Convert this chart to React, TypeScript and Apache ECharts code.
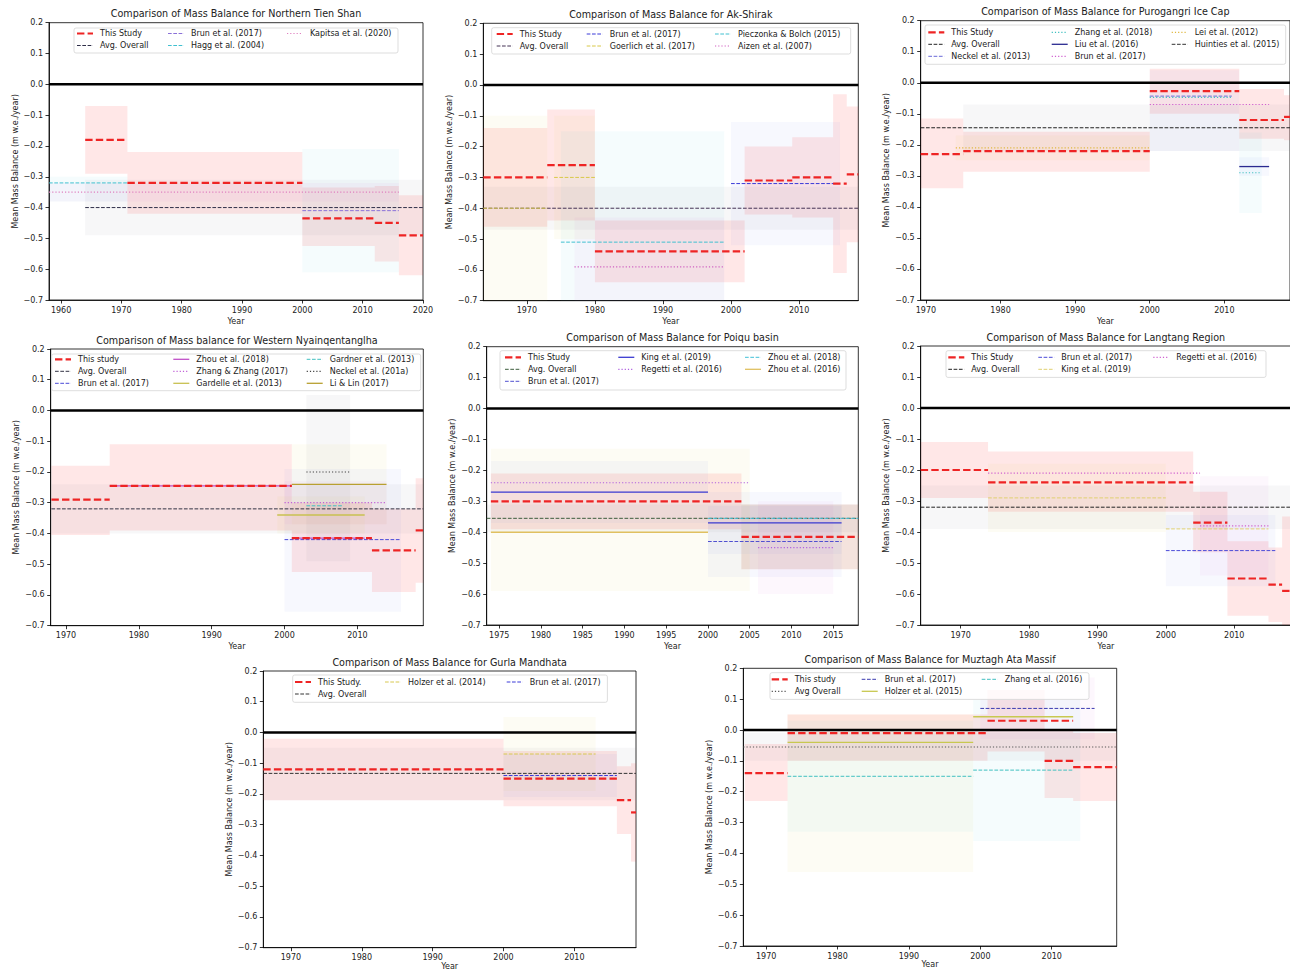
import React, { useEffect, useRef } from "react";
import * as echarts from "echarts";

// ---------- ticks ----------
const yTicks = [-0.7, -0.6, -0.5, -0.4, -0.3, -0.2, -0.1, 0.0, 0.1, 0.2];
const tienTicks = [1960, 1970, 1980, 1990, 2000, 2010, 2020];
const decadeTicks = [1970, 1980, 1990, 2000, 2010];
const poiquTicks = [1975, 1980, 1985, 1990, 1995, 2000, 2005, 2010, 2015];
const zeroLevel = 0;

// segments: [startYear, endYear, value]; bands: [startYear, endYear, low, high]
// ---------- Northern Tien Shan ----------
const tienStudy = [[1964, 1971, -0.18], [1971, 2000, -0.32], [2000, 2012, -0.435], [2012, 2016, -0.45], [2016, 2020, -0.49]];
const tienStudyBand = [[1964, 1971, -0.29, -0.07], [1971, 2000, -0.42, -0.22], [2000, 2012, -0.525, -0.335], [2012, 2016, -0.575, -0.33], [2016, 2020, -0.62, -0.36]];
const tienAvg = [[1964, 2020, -0.4]];
const tienAvgBand = [[1964, 2020, -0.49, -0.31]];
const tienBrun = [[2000, 2016, -0.41]];
const tienBrunBand = [[2000, 2016, -0.61, -0.21]];
const tienHagg = [[1957, 1971, -0.32]];
const tienHaggBand = [[1957, 1971, -0.38, -0.3]];
const tienKapitsa = [[1957, 2016, -0.35]];
const tienKapitsaBand = [[1957, 2016, -0.38, -0.32]];

// ---------- Ak-Shirak ----------
const akStudy = [[1963, 1973, -0.3], [1973, 1980, -0.26], [1980, 2002, -0.54], [2002, 2009, -0.31], [2009, 2015, -0.3], [2015, 2017, -0.32], [2017, 2019, -0.29]];
const akStudyBand = [[1963, 1973, -0.46, -0.14], [1973, 1980, -0.44, -0.08], [1980, 2002, -0.64, -0.44], [2002, 2009, -0.42, -0.2], [2009, 2015, -0.43, -0.17], [2015, 2017, -0.61, -0.03], [2017, 2019, -0.51, -0.07]];
const akAvg = [[1963, 2019, -0.4]];
const akAvgBand = [[1963, 2019, -0.47, -0.33]];
const akBrun = [[2000, 2016, -0.32]];
const akBrunBand = [[2000, 2016, -0.52, -0.12]];
const akGoerlich = [[1963, 1973, -0.4], [1974, 1980, -0.3]];
const akGoerlichBand = [[1963, 1973, -0.72, -0.1], [1974, 1980, -0.5, -0.1]];
const akPieczonka = [[1975, 1999, -0.51]];
const akPieczonkaBand = [[1975, 1999, -0.86, -0.15]];
const akAizen = [[1977, 1999, -0.59]];
const akAizenBand = [[1977, 1999, -0.75, -0.43]];

// ---------- Purogangri Ice Cap ----------
const puroStudy = [[1969, 1975, -0.23], [1975, 2000, -0.22], [2000, 2012, -0.027], [2012, 2018, -0.12], [2018, 2019, -0.11]];
const puroStudyBand = [[1969, 1975, -0.34, -0.115], [1975, 2000, -0.287, -0.158], [2000, 2012, -0.1, 0.045], [2012, 2018, -0.18, -0.02], [2018, 2019, -0.185, -0.04]];
const puroAvg = [[1969, 2019, -0.145]];
const puroAvgBand = [[1975, 2019, -0.22, -0.07]];
const puroNeckel = [[2000, 2011, -0.043]];
const puroNeckelBand = [[2000, 2012, -0.22, 0.04]];
const puroZhang = [[2000, 2011, -0.047], [2012, 2015, -0.29]];
const puroZhangBand = [[2012, 2015, -0.42, -0.16]];
const puroLiu = [[2012, 2016, -0.27]];
const puroLiuBand = [[2012, 2016, -0.3, -0.24]];
const puroBrun = [[2000, 2016, -0.07]];
const puroLei = [[1974, 2000, -0.21]];
const puroLeiBand = [[1974, 2000, -0.25, -0.17]];

// ---------- Western Nyainqentanglha ----------
const wnyStudy = [[1968, 1976, -0.29], [1976, 2001, -0.245], [2001, 2012, -0.415], [2012, 2018, -0.455], [2018, 2020, -0.39]];
const wnyStudyBand = [[1968, 1976, -0.405, -0.18], [1976, 2001, -0.39, -0.11], [2001, 2012, -0.525, -0.3], [2012, 2018, -0.59, -0.32], [2018, 2020, -0.56, -0.22]];
const wnyAvg = [[1968, 2020, -0.32]];
const wnyAvgBand = [[1968, 2020, -0.4, -0.24]];
const wnyBrun = [[2000, 2016, -0.42]];
const wnyBrunBand = [[2000, 2016, -0.655, -0.19]];
const wnyZhou = [[1976, 2001, -0.245], [2001, 2011, -0.415]];
const wnyZhangZhang = [[2000, 2014, -0.3]];
const wnyZhangZhangBand = [[2000, 2014, -0.37, -0.23]];
const wnyGardelle = [[1999, 2011, -0.34]];
const wnyGardelleBand = [[1999, 2011, -0.4, -0.28]];
const wnyGardner = [[2003, 2008, -0.31]];
const wnyNeckel = [[2003, 2009, -0.2]];
const wnyNeckelBand = [[2003, 2009, -0.49, 0.05]];
const wnyLiLin = [[2001, 2014, -0.24]];
const wnyLiLinBand = [[2001, 2014, -0.37, -0.11]];

// ---------- Poiqu basin ----------
const poiStudy = [[1974, 2004, -0.3], [2004, 2018, -0.415]];
const poiStudyBand = [[1974, 2004, -0.39, -0.21], [2004, 2018, -0.52, -0.31]];
const poiAvg = [[1973, 2018, -0.355]];
const poiAvgBand = [[1973, 2018, -0.4, -0.31]];
const poiBrun = [[2000, 2016, -0.43]];
const poiBrunBand = [[2000, 2016, -0.545, -0.315]];
const poiKing = [[1974, 2000, -0.27], [2000, 2016, -0.37]];
const poiKingBand = [[1974, 2000, -0.37, -0.17], [2000, 2016, -0.47, -0.27]];
const poiRegetti = [[1974, 2005, -0.24], [2006, 2015, -0.45]];
const poiRegettiBand = [[2006, 2015, -0.6, -0.3]];
const poiZhou18 = [[2000, 2018, -0.355]];
const poiZhou18Band = [[2004, 2018, -0.52, -0.31]];
const poiZhou16 = [[1974, 2000, -0.4]];
const poiZhou16Band = [[1974, 2005, -0.59, -0.13]];

// ---------- Langtang Region ----------
const langStudy = [[1964, 1974, -0.2], [1974, 2004, -0.24], [2004, 2009, -0.37], [2009, 2015, -0.55], [2015, 2017, -0.57], [2017, 2019, -0.59]];
const langStudyBand = [[1964, 1974, -0.29, -0.11], [1974, 2004, -0.335, -0.14], [2004, 2009, -0.465, -0.27], [2009, 2015, -0.67, -0.43], [2015, 2017, -0.69, -0.45], [2017, 2019, -0.78, -0.35]];
const langAvg = [[1964, 2019, -0.32]];
const langAvgBand = [[1964, 2019, -0.39, -0.25]];
const langBrun = [[2000, 2016, -0.46]];
const langBrunBand = [[2000, 2016, -0.575, -0.345]];
const langKing = [[1974, 2000, -0.29], [2000, 2015, -0.39]];
const langKingBand = [[1974, 2000, -0.4, -0.18]];
const langRegetti = [[1974, 2005, -0.21], [2005, 2015, -0.38]];
const langRegettiBand = [[2005, 2015, -0.54, -0.22]];

// ---------- Gurla Mandhata ----------
const gurStudy = [[1966, 2000, -0.12], [2000, 2016, -0.15], [2016, 2018, -0.22], [2018, 2019, -0.26]];
const gurStudyBand = [[1966, 2000, -0.22, -0.02], [2000, 2016, -0.24, -0.06], [2016, 2018, -0.33, -0.11], [2018, 2019, -0.42, -0.1]];
const gurAvg = [[1966, 2019, -0.133]];
const gurAvgBand = [[1966, 2019, -0.22, -0.05]];
const gurHolzer = [[2000, 2013, -0.07]];
const gurHolzerBand = [[2000, 2013, -0.19, 0.05]];
const gurBrun = [[2000, 2016, -0.14]];
const gurBrunBand = [[2000, 2016, -0.21, -0.07]];

// ---------- Muztagh Ata Massif ----------
const muzStudy = [[1967, 1973, -0.14], [1973, 2001, -0.01], [2001, 2013, 0.03], [2009, 2013, -0.1], [2013, 2020, -0.12]];
const muzStudyBand = [[1967, 1973, -0.23, -0.045], [1973, 2001, -0.1, 0.05], [2001, 2009, -0.07, 0.13], [2009, 2013, -0.22, 0.0], [2013, 2020, -0.23, -0.01]];
const muzAvg = [[1966, 2020, -0.055]];
const muzAvgBand = [[1966, 2020, -0.1, -0.01]];
const muzBrun = [[2000, 2016, 0.07]];
const muzBrunBand = [[2000, 2016, -0.03, 0.17]];
const muzHolzer = [[1973, 1999, -0.04], [1999, 2013, 0.043]];
const muzHolzerBand = [[1973, 1999, -0.46, 0.05]];
const muzZhang = [[1973, 1999, -0.15], [1999, 2013, -0.13]];
const muzZhangBand = [[1973, 1999, -0.33, 0.03], [1999, 2014, -0.36, 0.1]];

// ---------- styles ----------
const FONT = "DejaVu Sans";
const RED = "#ee2424";
const LINE = {
  thick: { width: 2.2, dash: [7.4, 3.2] },
  dashed: { width: 1, dash: [3.7, 1.6] },
  dotted: { width: 1.2, dash: [1.2, 2] },
  solid: { width: 1.3, dash: null as any },
};
const BAND = {
  study: "rgba(255,40,40,0.11)",
  avg: "rgba(120,120,130,0.06)",
  blue: "rgba(80,90,230,0.045)",
  cyan: "rgba(60,200,220,0.05)",
  yellow: "rgba(225,200,60,0.055)",
  magenta: "rgba(210,80,210,0.045)",
  green: "rgba(60,170,60,0.06)",
};

type St = { name: string; color: string; kind: keyof typeof LINE; segs: number[][]; bands?: number[][]; band?: string };
const st = (name: string, color: string, kind: keyof typeof LINE, segs: number[][], bands?: number[][], band?: string): St => ({ name, color, kind, segs, bands, band });

const panels = [
  {
    title: "Comparison of Mass Balance for Northern Tien Shan",
    rect: [49, 22.7, 423, 300], x: [1958, 2020], ticks: tienTicks, nameGap: 17,
    legend: { box: [74, 28, 324, 25], cols: [77, 168, 287], row0: 33.5 },
    studies: [
      st("This Study", RED, "thick", tienStudy, tienStudyBand, BAND.study),
      st("Avg. Overall", "#2e2e48", "dashed", tienAvg, tienAvgBand, BAND.avg),
      st("Brun et al. (2017)", "#8a70d8", "dashed", tienBrun, tienBrunBand, BAND.cyan),
      st("Hagg et al. (2004)", "#40c0d0", "dashed", tienHagg, tienHaggBand, BAND.cyan),
      st("Kapitsa et al. (2020)", "#e080c0", "dotted", tienKapitsa, tienKapitsaBand, BAND.magenta),
    ],
  },
  {
    title: "Comparison of Mass Balance for Ak-Shirak",
    rect: [483.3, 23.3, 858.3, 300.7], x: [1963.6, 2018.7], ticks: decadeTicks, nameGap: 17,
    legend: { box: [491.7, 27.7, 359, 26.3], cols: [496.7, 586.7, 715], row0: 34 },
    studies: [
      st("This Study", RED, "thick", akStudy, akStudyBand, BAND.study),
      st("Avg. Overall", "#443355", "dashed", akAvg, akAvgBand, BAND.avg),
      st("Brun et al. (2017)", "#3a3ad8", "dashed", akBrun, akBrunBand, BAND.blue),
      st("Goerlich et al. (2017)", "#d8c848", "dashed", akGoerlich, akGoerlichBand, BAND.yellow),
      st("Pieczonka & Bolch (2015)", "#40c0d0", "dashed", akPieczonka, akPieczonkaBand, BAND.cyan),
      st("Aizen et al. (2007)", "#d060c0", "dotted", akAizen, akAizenBand, BAND.magenta),
    ],
  },
  {
    title: "Comparison of Mass Balance for Purogangri Ice Cap",
    rect: [920.7, 20.7, 1290, 300], x: [1969.3, 2018.8], ticks: decadeTicks, nameGap: 17,
    legend: { box: [925, 25, 360.7, 39.3], cols: [928.3, 1051.7, 1171.7], row0: 32.3 },
    studies: [
      st("This Study", RED, "thick", puroStudy, puroStudyBand, BAND.study),
      st("Avg. Overall", "#222222", "dashed", puroAvg, puroAvgBand, BAND.avg),
      st("Neckel et al. (2013)", "#6a6ad8", "dashed", puroNeckel, puroNeckelBand, BAND.blue),
      st("Zhang et al. (2018)", "#40c0c0", "dotted", puroZhang, puroZhangBand, BAND.cyan),
      st("Liu et al. (2016)", "#2a2a90", "solid", puroLiu, puroLiuBand, BAND.blue),
      st("Brun et al. (2017)", "#d060d0", "dotted", puroBrun),
      st("Lei et al. (2012)", "#e0b840", "dotted", puroLei, puroLeiBand, BAND.yellow),
      st("Huinties et al. (2015)", "#333333", "dashed", []),
    ],
  },
  {
    title: "Comparison of Mass balance for Western Nyainqentanglha",
    rect: [50.7, 349, 423.3, 625.7], x: [1967.9, 2019.05], ticks: decadeTicks, nameGap: 17,
    legend: { box: [51.7, 354, 369, 36.7], cols: [55, 173.3, 306.7], row0: 359.3 },
    studies: [
      st("This study", RED, "thick", wnyStudy, wnyStudyBand, BAND.study),
      st("Avg. Overall", "#334", "dashed", wnyAvg, wnyAvgBand, BAND.avg),
      st("Brun et al. (2017)", "#4a4ad8", "dashed", wnyBrun, wnyBrunBand, BAND.blue),
      st("Zhou et al. (2018)", "#c050c8", "solid", wnyZhou),
      st("Zhang & Zhang (2017)", "#c060d8", "dotted", wnyZhangZhang, wnyZhangZhangBand, BAND.magenta),
      st("Gardelle et al. (2013)", "#c8c050", "solid", wnyGardelle, wnyGardelleBand, BAND.yellow),
      st("Gardner et al. (2013)", "#40c0c0", "dashed", wnyGardner),
      st("Neckel et al. (201a)", "#444444", "dotted", wnyNeckel, wnyNeckelBand, BAND.avg),
      st("Li & Lin (2017)", "#b8a030", "solid", wnyLiLin, wnyLiLinBand, BAND.yellow),
    ],
  },
  {
    title: "Comparison of Mass Balance for Poiqu basin",
    rect: [486.7, 346.7, 858.3, 625], x: [1973.5, 2018], ticks: poiquTicks, nameGap: 17,
    legend: { box: [500, 350.7, 346, 39.3], cols: [505, 618.3, 745], row0: 357.3 },
    studies: [
      st("This Study", RED, "thick", poiStudy, poiStudyBand, BAND.study),
      st("Avg. Overall", "#3d5d3d", "dashed", poiAvg, poiAvgBand, BAND.avg),
      st("Brun et al. (2017)", "#5050d0", "dashed", poiBrun, poiBrunBand, BAND.blue),
      st("King et al. (2019)", "#3a3ad0", "solid", poiKing, poiKingBand, BAND.blue),
      st("Regetti et al. (2016)", "#b060e0", "dotted", poiRegetti, poiRegettiBand, BAND.magenta),
      st("Zhou et al. (2018)", "#40c0d8", "dashed", poiZhou18, poiZhou18Band, BAND.green),
      st("Zhou et al. (2016)", "#e0c060", "solid", poiZhou16, poiZhou16Band, BAND.yellow),
    ],
  },
  {
    title: "Comparison of Mass Balance for Langtang Region",
    rect: [920.7, 346, 1291, 625], x: [1964.15, 2018.3], ticks: decadeTicks, nameGap: 17,
    legend: { box: [946, 350.7, 320, 26.7], cols: [948.3, 1038.3, 1153.3], row0: 357.3 },
    studies: [
      st("This Study", RED, "thick", langStudy, langStudyBand, BAND.study),
      st("Avg. Overall", "#222222", "dashed", langAvg, langAvgBand, BAND.avg),
      st("Brun et al. (2017)", "#4a4ad8", "dashed", langBrun, langBrunBand, BAND.blue),
      st("King et al. (2019)", "#e0d070", "dashed", langKing, langKingBand, BAND.yellow),
      st("Regetti et al. (2016)", "#d060d0", "dotted", langRegetti, langRegettiBand, BAND.magenta),
    ],
  },
  {
    title: "Comparison of Mass Balance for Gurla Mandhata",
    rect: [263.3, 671, 636, 947.7], x: [1966.1, 2018.7], ticks: decadeTicks, nameGap: 14,
    legend: { box: [292.7, 675, 314.7, 27.3], cols: [295, 385, 506.7], row0: 682 },
    studies: [
      st("This Study.", RED, "thick", gurStudy, gurStudyBand, BAND.study),
      st("Avg. Overall", "#333333", "dashed", gurAvg, gurAvgBand, BAND.avg),
      st("Holzer et al. (2014)", "#d8c850", "dashed", gurHolzer, gurHolzerBand, BAND.yellow),
      st("Brun et al. (2017)", "#3a3ad8", "dashed", gurBrun, gurBrunBand, BAND.blue),
    ],
  },
  {
    title: "Comparison of Mass Balance for Muztagh Ata Massif",
    rect: [743.3, 668.3, 1116.7, 946], x: [1966.8, 2019.1], ticks: decadeTicks, nameGap: 14,
    legend: { box: [770, 672.7, 319, 26.7], cols: [771.7, 861.7, 981.7], row0: 679.3 },
    studies: [
      st("This study", RED, "thick", muzStudy, muzStudyBand, BAND.study),
      st("Avg Overall", "#555555", "dotted", muzAvg, muzAvgBand, BAND.avg),
      st("Brun et al. (2017)", "#3a3ab0", "dashed", muzBrun, muzBrunBand, BAND.magenta),
      st("Holzer et al. (2015)", "#c8c850", "solid", muzHolzer, muzHolzerBand, BAND.yellow),
      st("Zhang et al. (2016)", "#40c0c0", "dashed", muzZhang, muzZhangBand, BAND.cyan),
    ],
  },
];

const clamp = (v: number, a: number, b: number) => Math.max(a, Math.min(b, v));

const segRender = (color: string, width: number, dash: any) => (params: any, api: any) => {
  const cs = params.coordSys;
  const a = api.coord([api.value(0), api.value(2)]);
  const b = api.coord([api.value(1), api.value(2)]);
  const x1 = clamp(a[0], cs.x, cs.x + cs.width);
  const x2 = clamp(b[0], cs.x, cs.x + cs.width);
  if (x2 <= x1) return null;
  return {
    type: "line",
    shape: { x1, y1: a[1], x2, y2: b[1] },
    style: { stroke: color, lineWidth: width, lineDash: dash || undefined, fill: null },
  };
};

const bandRender = (fill: string) => (params: any, api: any) => {
  const cs = params.coordSys;
  const a = api.coord([api.value(0), api.value(3)]);
  const b = api.coord([api.value(1), api.value(2)]);
  const x1 = clamp(a[0], cs.x, cs.x + cs.width);
  const x2 = clamp(b[0], cs.x, cs.x + cs.width);
  const y1 = clamp(a[1], cs.y, cs.y + cs.height);
  const y2 = clamp(b[1], cs.y, cs.y + cs.height);
  if (x2 <= x1 || y2 <= y1) return null;
  return { type: "rect", shape: { x: x1, y: y1, width: x2 - x1, height: y2 - y1 }, style: { fill } };
};

const fmtY = (v: number) => {
  const r = Math.round(v * 10) / 10;
  if (Math.abs(r) < 1e-9) return "0.0";
  return (r < 0 ? "\u2212" : "") + Math.abs(r).toFixed(1);
};

function buildOption() {
  const grid: any[] = [];
  const xAxis: any[] = [];
  const yAxis: any[] = [];
  const series: any[] = [];
  const elements: any[] = [];
  const axisLineStyle = { color: "#000", width: 0.8 };

  panels.forEach((p, i) => {
    const [l, t, r, b] = p.rect;
    grid.push({
      left: l, top: t, width: r - l, height: b - t,
      show: true, borderColor: "#000", borderWidth: 0.8, backgroundColor: "transparent",
      containLabel: false, outerBoundsMode: "none",
    });
    xAxis.push({
      type: "value", gridIndex: i, min: p.x[0], max: p.x[1],
      name: "Year", nameLocation: "middle", nameGap: p.nameGap,
      nameTextStyle: { fontSize: 8, color: "#222", fontFamily: FONT },
      axisLine: { show: true, onZero: false, lineStyle: axisLineStyle },
      axisTick: { show: true, length: 3.5, customValues: p.ticks, lineStyle: axisLineStyle },
      axisLabel: { customValues: p.ticks, fontSize: 8, color: "#222", fontFamily: FONT, margin: 6, formatter: (v: number) => String(Math.round(v)) },
      splitLine: { show: false },
    });
    yAxis.push({
      type: "value", gridIndex: i, min: -0.7, max: 0.2,
      name: "Mean Mass Balance (m w.e./year)", nameLocation: "middle", nameGap: 30,
      nameTextStyle: { fontSize: 8, color: "#222", fontFamily: FONT },
      axisLine: { show: true, onZero: false, lineStyle: axisLineStyle },
      axisTick: { show: true, length: 3.5, customValues: yTicks, lineStyle: axisLineStyle },
      axisLabel: { customValues: yTicks, fontSize: 8, color: "#222", fontFamily: FONT, margin: 6, formatter: fmtY },
      splitLine: { show: false },
    });

    p.studies.forEach((s) => {
      if (s.bands && s.band) {
        series.push({
          type: "custom", xAxisIndex: i, yAxisIndex: i, silent: true, z: 1,
          encode: { x: [0, 1], y: [2, 3] },
          data: s.bands, renderItem: bandRender(s.band),
        });
      }
    });
    series.push({
      type: "custom", xAxisIndex: i, yAxisIndex: i, silent: true, z: 2,
      encode: { x: [0, 1], y: [2] },
      data: [[p.x[0], p.x[1], zeroLevel]],
      renderItem: segRender("#000", 2.6, null),
    });
    p.studies.forEach((s, k) => {
      if (!s.segs.length) return;
      const ls = LINE[s.kind];
      series.push({
        type: "custom", xAxisIndex: i, yAxisIndex: i, silent: true, z: k === 0 ? 5 : 3,
        encode: { x: [0, 1], y: [2] },
        data: s.segs, renderItem: segRender(s.color, ls.width, ls.dash),
      });
    });

    elements.push({
      type: "text", z: 100, x: (l + r) / 2, y: t - 9,
      style: { text: p.title, fill: "#222", font: `9.6px "${FONT}"`, textAlign: "center", textVerticalAlign: "middle" },
    });

    const lg = p.legend;
    const [bx, by, bw, bh] = lg.box;
    elements.push({
      type: "rect", z: 90, shape: { x: bx, y: by, width: bw, height: bh, r: 2 },
      style: { fill: "rgba(255,255,255,0.8)", stroke: "#d4d4d4", lineWidth: 0.8 },
    });
    const n = p.studies.length;
    const base = Math.floor(n / 3);
    const large = n % 3;
    const dist = [0, 1, 2].map((c) => (c < large ? base + 1 : base));
    let idx = 0;
    dist.forEach((cnt, c) => {
      for (let rr = 0; rr < cnt; rr++) {
        const s = p.studies[idx++];
        const ls = LINE[s.kind];
        const hx = lg.cols[c];
        const yy = lg.row0 + rr * 12;
        elements.push({
          type: "line", z: 95,
          shape: { x1: hx, y1: yy, x2: hx + 16, y2: yy },
          style: { stroke: s.color, lineWidth: ls.width, lineDash: ls.dash || undefined },
        });
        elements.push({
          type: "text", z: 95, x: hx + 23, y: yy,
          style: { text: s.name, fill: "#222", font: `8px "${FONT}"`, textAlign: "left", textVerticalAlign: "middle" },
        });
      }
    });
  });

  return {
    animation: false,
    backgroundColor: "#fff",
    textStyle: { fontFamily: FONT },
    grid, xAxis, yAxis, series,
    graphic: { elements },
  };
}

export default function App() {
  const ref = useRef<HTMLDivElement>(null);
  useEffect(() => {
    if (!ref.current) return;
    const chart = echarts.init(ref.current, null, { renderer: "svg" });
    chart.setOption(buildOption() as any);
    return () => chart.dispose();
  }, []);
  return (
    <div
      ref={ref}
      style={{ position: "absolute", left: 0, top: 0, width: 1290, height: 971, background: "#fff" }}
    />
  );
}
